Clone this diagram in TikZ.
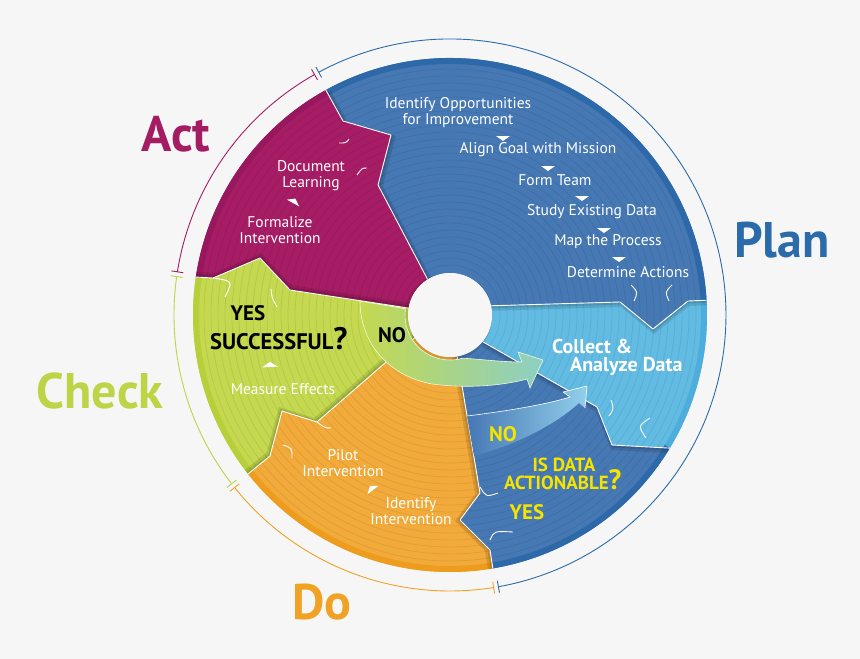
\documentclass[tikz,border=0pt]{standalone}
\usepackage{fontspec}
\setmainfont{PT Sans}
\usetikzlibrary{calc,positioning}

\definecolor{bgcol}{HTML}{F6F6F6}
\definecolor{planblue}{HTML}{4678B4}
\definecolor{planrim}{HTML}{2D69A8}
\definecolor{plantitle}{HTML}{2B6BAA}
\definecolor{collectblue}{HTML}{62BBE2}
\definecolor{collectrim}{HTML}{4DAEDC}
\definecolor{doorange}{HTML}{F2AA3A}
\definecolor{dorim}{HTML}{EE9C1E}
\definecolor{dotitle}{HTML}{F0A224}
\definecolor{checkgreen}{HTML}{C4D94F}
\definecolor{checkrim}{HTML}{B7CF3B}
\definecolor{checktitle}{HTML}{BDD446}
\definecolor{actpurple}{HTML}{A61D65}
\definecolor{actrim}{HTML}{981860}
\definecolor{acttitle}{HTML}{A41D63}
\definecolor{askyellow}{HTML}{F4E400}
\definecolor{arrowteal}{HTML}{8CCFC4}

% phase regions (named points are set in the picture)
\newcommand{\planregion}{(hPC) -- (pc1) -- (pc2) -- (pc3) -- (rPC) arc[start angle=356.7, end angle=241.1, radius=257]
    -- (ap3) -- (ap2) -- (ap1) -- (hAP) arc[start angle=237.8, end angle=347.3, radius=42] -- cycle}
\newcommand{\collectregion}{(hPC) -- (pc1) -- (pc2) -- (pc3) -- (rPC) arc[start angle=-3.3, end angle=31.2, radius=257]
    -- (ca2) -- (ca1) -- (hCA) arc[start angle=39.3, end angle=-12.7, radius=42] -- cycle}
\newcommand{\askregion}{(hCA) -- (ca1) -- (ca2) -- (rCA) arc[start angle=31.2, end angle=80.4, radius=257]
    -- (ad3) -- (ad2) -- (ad1) -- (hAD) arc[start angle=80.3, end angle=39.3, radius=42] -- cycle}
\newcommand{\doregion}{(hAD) -- (ad1) -- (ad2) -- (ad3) -- (rAD) arc[start angle=80.4, end angle=141.8, radius=257]
    -- (dc4) -- (dc3) -- (dc2) -- (dc1) -- (hDC) arc[start angle=147.1, end angle=80.3, radius=42] -- cycle}
\newcommand{\checkregion}{(hDC) -- (dc1) -- (dc2) -- (dc3) -- (dc4) -- (rDC) arc[start angle=141.8, end angle=188.5, radius=257]
    -- (ck3) -- (ck2) -- (ck1) -- (hCK) arc[start angle=189.5, end angle=147.1, radius=42] -- cycle}
\newcommand{\actregion}{(hCK) -- (ck1) -- (ck2) -- (ck3) -- (rCK) arc[start angle=188.5, end angle=241.1, radius=257]
    -- (ap3) -- (ap2) -- (ap1) -- (hAP) arc[start angle=237.8, end angle=189.5, radius=42] -- cycle}
% shadow of #2 falling on #1, offset #3,#4
\newcommand{\castshadow}[4]{%
  \begin{scope}
    \clip #1;
    \begin{scope}[transform canvas={shift={(0.5*#3,0.5*#4)}}] \fill[dropshade] #2; \end{scope}
    \begin{scope}[transform canvas={shift={(#3,#4)}}] \fill[dropshade] #2; \end{scope}
  \end{scope}}

\begin{document}
\begin{tikzpicture}[x=1pt, y=-1pt,
  every node/.style={align=center, inner sep=0pt},
  stepnote/.style={text=white, font=\fontsize{15.5}{16}\selectfont},
  bignote/.style={text=white, font=\fontsize{20}{18}\selectfont\bfseries},
  phase/.style={font=\fontsize{50}{50}\selectfont\bfseries},
  answer/.style={font=\fontsize{21}{22}\selectfont\bfseries},
  query/.style={text=askyellow, font=\fontsize{19}{20}\selectfont\bfseries},
  seam/.style={draw=white, line width=0.9, line join=round},
  hook/.style={draw=white, line width=0.9},
  groove/.style={draw=black, opacity=0.07, line width=0.8},
  dropshade/.style={fill=black, opacity=0.11},
  tipmark/.style={fill=white},
  ringarc/.style={line width=0.9}
]
  \useasboundingbox[fill=bgcol] (0,0) rectangle (860,659);

  % centre, rim and hole points
  \coordinate (c) at (450,315);
  \coordinate (rAP) at ($(c)+(241.1:257)$);
  \coordinate (rPC) at ($(c)+(356.7:257)$);
  \coordinate (rCA) at ($(c)+(31.2:257)$);
  \coordinate (rAD) at ($(c)+(80.4:257)$);
  \coordinate (rDC) at ($(c)+(141.8:257)$);
  \coordinate (rCK) at ($(c)+(188.5:257)$);
  \coordinate (hAP) at ($(c)+(237.8:42)$);
  \coordinate (hPC) at ($(c)+(347.3:42)$);
  \coordinate (hCA) at ($(c)+(39.3:42)$);
  \coordinate (hAD) at ($(c)+(80.3:42)$);
  \coordinate (hDC) at ($(c)+(147.1:42)$);
  \coordinate (hCK) at ($(c)+(189.5:42)$);

  % arrow heads between phases
  \coordinate (pc1) at (620,302); \coordinate (pc2) at (653,329); \coordinate (pc3) at (688,301);
  \coordinate (ca1) at (597,407); \coordinate (ca2) at (612,445);
  \coordinate (ad1) at (480,493); \coordinate (ad2) at (460,520); \coordinate (ad3) at (490,550);
  \coordinate (dc1) at (385,363); \coordinate (dc2) at (317,422); \coordinate (dc3) at (282,411); \coordinate (dc4) at (270,456);
  \coordinate (ck1) at (290,290); \coordinate (ck2) at (260,258); \coordinate (ck3) at (213,278);
  \coordinate (ap1) at (378,185); \coordinate (ap2) at (391,135); \coordinate (ap3) at (343,121);

  % phases
  \fill[planblue] \planregion;
  \fill[collectblue] \collectregion;
  \fill[planblue] \askregion;
  \fill[doorange] \doregion;
  \fill[checkgreen] \checkregion;
  \fill[actpurple] \actregion;

  % darker rim bands
  \foreach \a/\b/\col in {241.1/356.7/planrim, -3.3/31.2/collectrim, 31.2/80.4/planrim,
                          80.4/141.8/dorim, 141.8/188.5/checkrim, 188.5/241.1/actrim}
    \draw[\col, line width=6] ($(c)+(\a:254)$) arc[start angle=\a, end angle=\b, radius=254];

  % shadows of the arrow heads
  \castshadow{\planregion}{\actregion}{5}{1}
  \castshadow{\collectregion}{\planregion}{1}{5}
  \castshadow{\askregion}{\collectregion}{-1}{5}
  \castshadow{\doregion}{\askregion}{-5}{1}
  \castshadow{\checkregion}{\doregion}{-3}{-4}
  \castshadow{\actregion}{\checkregion}{1}{-5}

  % grooves
  \begin{scope}
    \clip (c) circle[radius=257];
    \foreach \r in {50,57,...,250}
      \draw[groove] (c) circle[radius=\r];
  \end{scope}

  % seams
  \draw[seam] (hPC) -- (pc1) -- (pc2) -- (pc3) -- (rPC);
  \draw[seam] (hCA) -- (ca1) -- (ca2) -- (rCA);
  \draw[seam] (hAD) -- (ad1) -- (ad2) -- (ad3) -- (rAD);
  \draw[seam] (hDC) -- (dc1) -- (dc2) -- (dc3) -- (dc4) -- (rDC);
  \draw[seam] (hCK) -- (ck1) -- (ck2) -- (ck3) -- (rCK);
  \draw[seam] (hAP) -- (ap1) -- (ap2) -- (ap3) -- (rAP);

  % hooks at the arrow heads
  \draw[hook] (631,285) .. controls (638,292) .. (634,301);
  \draw[hook] (672,285) .. controls (665,292) .. (669,301);
  \draw[hook] (611,400) .. controls (614,409) .. (609,416);
  \draw[hook] (650,418) .. controls (638,426) .. (646,438);
  \draw[hook] (480,487) .. controls (486,497) .. (498,493);
  \draw[hook] (490,540) .. controls (494,531) .. (513,532);
  \draw[hook] (317,422) .. controls (325,428) .. (331,428);
  \draw[hook] (283,445) .. controls (292,448) .. (292,458);
  \draw[hook] (213,278) .. controls (233,281) .. (225,297);
  \draw[hook] (271,289) .. controls (272,298) .. (277,307);
  \draw[hook] (349,139) .. controls (346,143) .. (339,143);
  \draw[hook] (367,168) .. controls (362,168) .. (357,175);

  % hole
  \fill[black, opacity=0.12] ($(c)+(-2,2)$) circle[radius=44];
  \fill[bgcol] (c) circle[radius=42];

  % NO loop out of Check
  \shade[left color=checkgreen, right color=arrowteal, draw=white!80!checkgreen, line width=0.6]
    (360,301) .. controls (360,340) and (385,375) .. (432,384)
    .. controls (470,389) and (505,385) .. (527,379) -- (530,388) -- (543,360) -- (518,352) -- (522,362)
    .. controls (500,362) and (480,359) .. ($(c)+(74:45)$)
    arc[start angle=74, end angle=188, radius=45] -- cycle;

  % NO loop inside the data step
  \shade[left color=planblue, right color=collectblue!70!white]
    (467,416) .. controls (500,412) and (545,405) .. (570,397) -- (563,392) -- (587,386) -- (585,408) -- (579,403)
    .. controls (555,425) and (515,445) .. (474,456) -- cycle;
  \draw[seam, line width=0.6] (467,416) .. controls (500,412) and (545,405) .. (570,397) -- (563,392) -- (587,386) -- (585,408);

  % step marks
  \foreach \x/\y in {503/136, 548/166, 582/196, 604/228, 619/257}
    \fill[tipmark, shift={(\x,\y)}, rotate=180] (-7,0) -- (7,0) -- (0,-5) -- cycle;
  \fill[tipmark, shift={(293,203)}, rotate=-29] (-7,0) -- (7,0) -- (0,-5) -- cycle;
  \fill[tipmark, shift={(270,367)}, rotate=3] (-8,0) -- (8,0) -- (0,-5) -- cycle;
  \fill[tipmark, shift={(373,490)}, rotate=37] (-7,0) -- (7,0) -- (0,-5) -- cycle;

  % Plan steps
  \node[stepnote] (identify) at (458,113) {Identify Opportunities\\for Improvement};
  \node[stepnote] (align) at (538,150) {Align Goal with Mission};
  \node[stepnote] (team) at (555,180) {Form Team};
  \node[stepnote] (study) at (592,212) {Study Existing Data};
  \node[stepnote] (map) at (608,242) {Map the Process};
  \node[stepnote] (determine) at (628,272) {Determine Actions};

  % Collect
  \node[bignote, align=left, anchor=west] (collect) at (552,357) {Collect \&\\\hspace*{18pt}Analyze Data};

  % data decision
  \node[answer, text=askyellow, anchor=base] (noask) at (503,441) {NO};
  \node[query, anchor=base] (isdata) at (564,471) {IS DATA};
  \node[query, anchor=base west] (actionable) at (504,489) {ACTIONABLE{\fontsize{28}{28}\selectfont ?}};
  \node[answer, text=askyellow, anchor=base] (yesask) at (527,519) {YES};

  % Do steps
  \node[stepnote] (pilot) at (343,463) {Pilot\\Intervention};
  \node[stepnote] (identint) at (411,511) {Identify\\Intervention};

  % Check steps
  \node[stepnote] (measure) at (283,389) {Measure Effects};
  \node[answer, anchor=base] (yescheck) at (248,320) {YES};
  \node[answer, anchor=base west, font=\fontsize{22.5}{23}\selectfont\bfseries] (successful) at (210,349) {SUCCESSFUL{\fontsize{31}{31}\selectfont ?}};
  \node[answer, anchor=base] (nocheck) at (392,342) {NO};

  % Act steps
  \node[stepnote] (document) at (311,176) {Document\\Learning};
  \node[stepnote] (formalize) at (280,230) {Formalize\\Intervention};

  % outer ring
  \foreach \a/\b/\col in {241.1/440.4/plantitle, 80.4/141.8/dotitle, 141.8/188.5/checktitle, 188.5/241.1/acttitle} {
    \draw[ringarc, \col] ($(c)+(\a+0.5:276)$) arc[start angle=\a+0.5, end angle=\b-0.5, radius=276];
    \draw[ringarc, \col] ($(c)+(\a+0.5:270)$) -- ($(c)+(\a+0.5:282)$);
    \draw[ringarc, \col] ($(c)+(\b-0.5:270)$) -- ($(c)+(\b-0.5:282)$);
  }

  % phase titles
  \node[phase, text=acttitle] (act) at (176,134) {Act};
  \node[phase, text=plantitle] (plan) at (782,240) {Plan};
  \node[phase, text=checktitle] (check) at (100,391) {Check};
  \node[phase, text=dotitle] (do) at (322,602) {Do};
\end{tikzpicture}
\end{document}
